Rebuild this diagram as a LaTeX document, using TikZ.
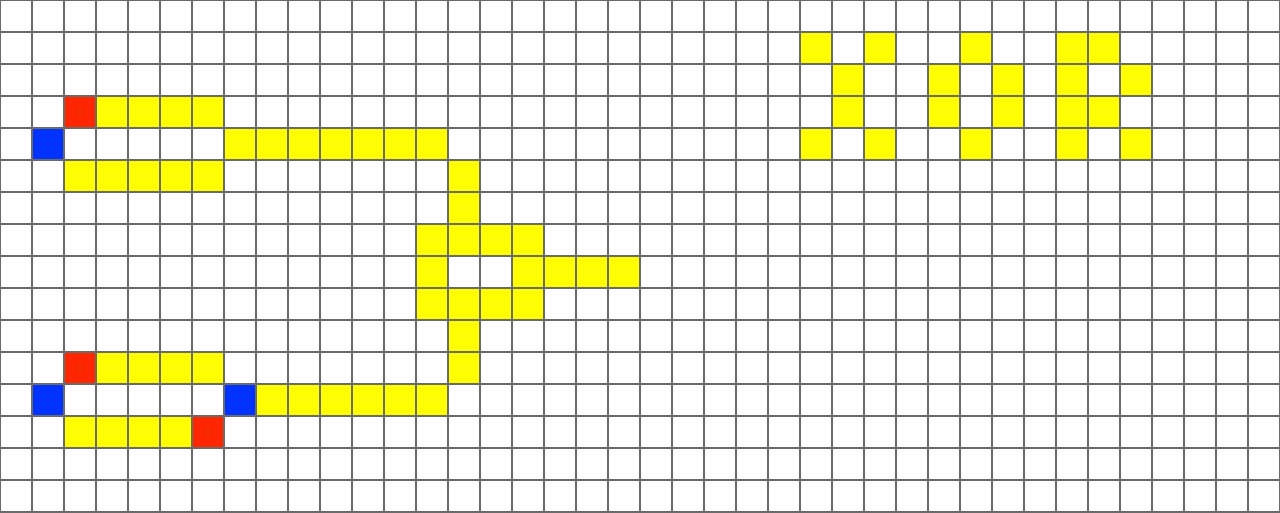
\documentclass[tikz,border=0pt]{standalone}
\definecolor{gy}{HTML}{FFFF00}
\definecolor{rd}{HTML}{FF2600}
\definecolor{bl}{HTML}{0033FF}
\definecolor{gl}{HTML}{6B6B6B}
\tikzset{gridline/.style={draw=gl,line width=0.05cm}}
\begin{document}
\begin{tikzpicture}[x=0.8cm,y=-0.8cm]
\useasboundingbox (0,0) rectangle (40,16);
\fill[white] (0,0) rectangle (40,16);
% yellow cells (col,row from top)
\foreach \c/\r in {25/1,27/1,30/1,33/1,34/1,
  26/2,29/2,31/2,33/2,35/2,
  3/3,4/3,5/3,6/3,26/3,29/3,31/3,33/3,34/3,
  7/4,8/4,9/4,10/4,11/4,12/4,13/4,25/4,27/4,30/4,33/4,35/4,
  2/5,3/5,4/5,5/5,6/5,14/5,
  14/6,
  13/7,14/7,15/7,16/7,
  13/8,16/8,17/8,18/8,19/8,
  13/9,14/9,15/9,16/9,
  14/10,
  3/11,4/11,5/11,6/11,14/11,
  8/12,9/12,10/12,11/12,12/12,13/12,
  2/13,3/13,4/13,5/13}
  \fill[gy] (\c,\r) rectangle ++(1,1);
\foreach \c/\r in {2/3,2/11,6/13}
  \fill[rd] (\c,\r) rectangle ++(1,1);
\foreach \c/\r in {1/4,1/12,7/12}
  \fill[bl] (\c,\r) rectangle ++(1,1);
\foreach \i in {0,...,40} \draw[gridline] (\i,0) -- (\i,16);
\foreach \j in {0,...,16} \draw[gridline] (0,\j) -- (40,\j);
\end{tikzpicture}
\end{document}
